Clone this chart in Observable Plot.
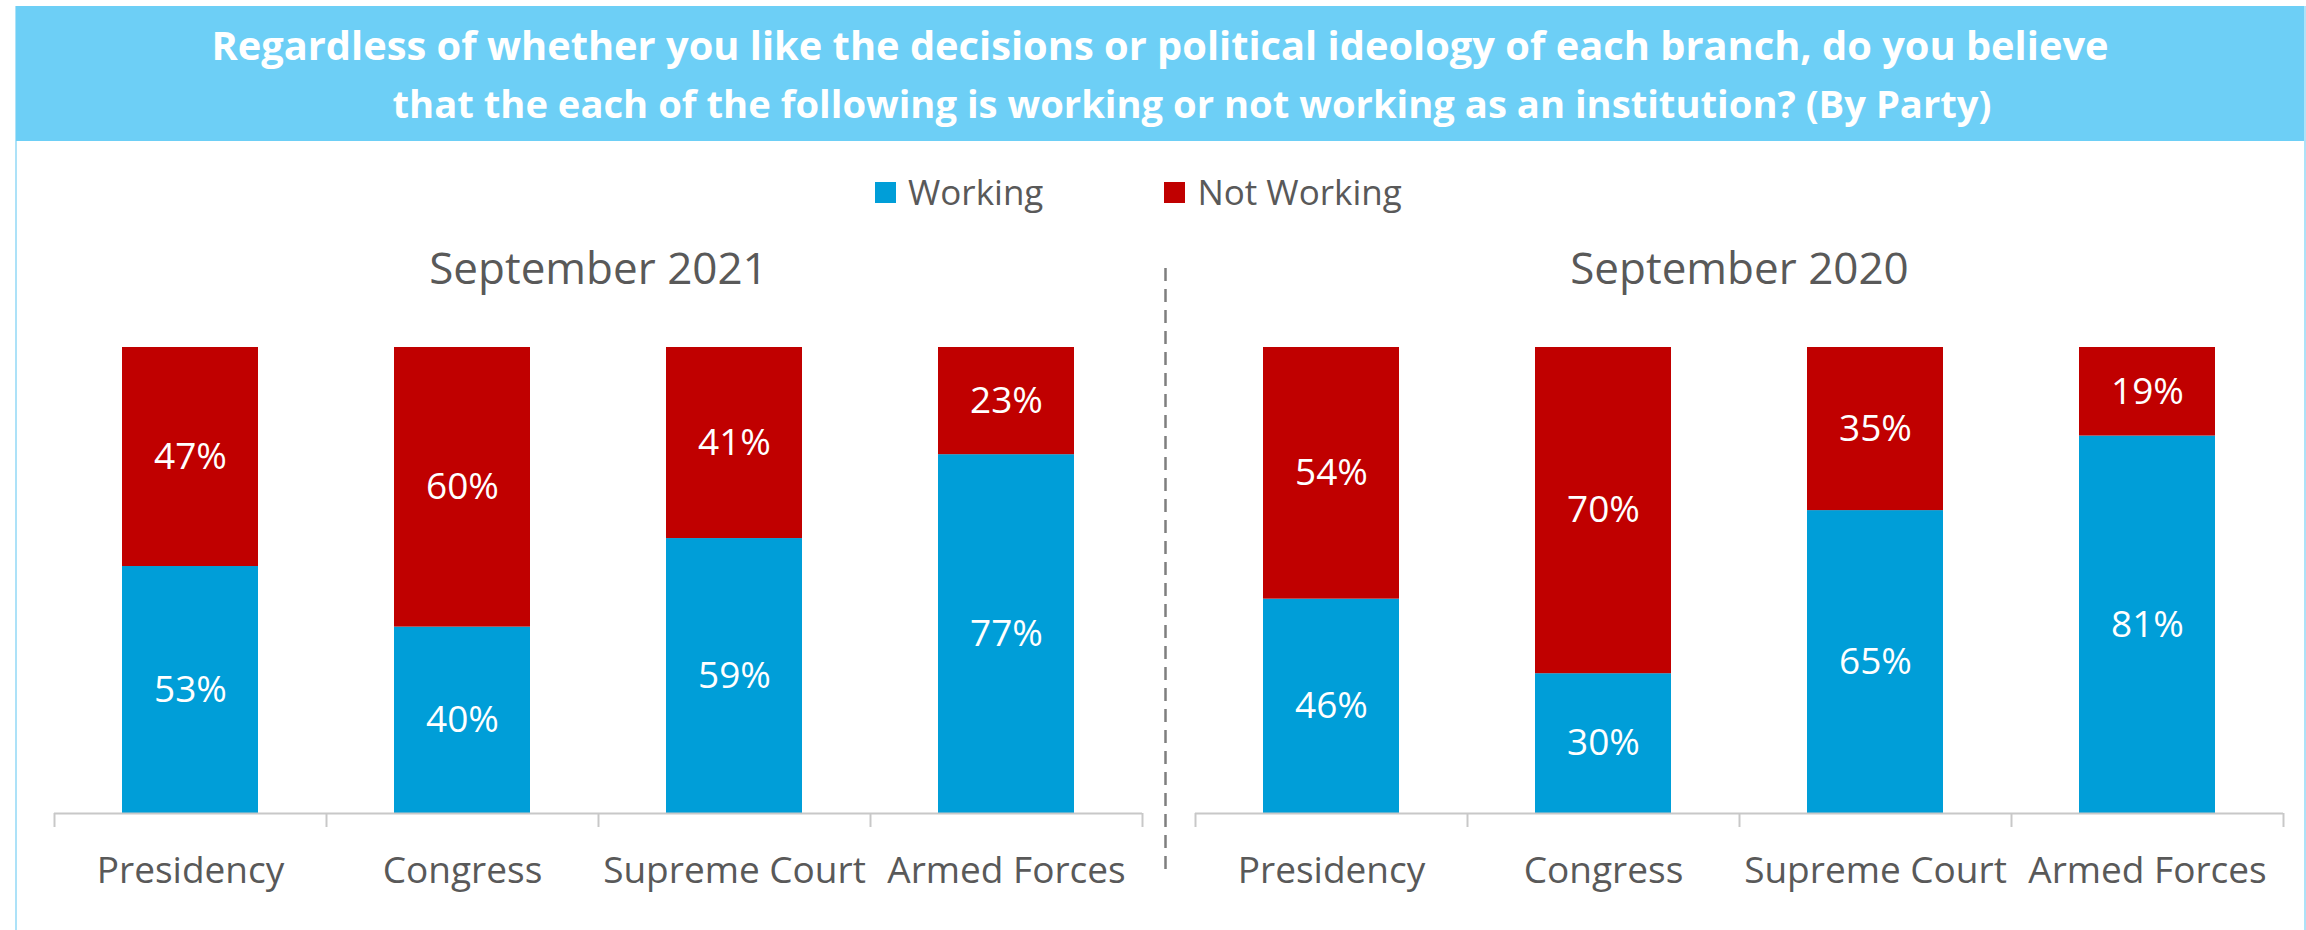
<!DOCTYPE html>
<html>
<head>
<meta charset="utf-8">
<script src="https://cdn.jsdelivr.net/npm/d3@7"></script>
<script src="https://cdn.jsdelivr.net/npm/@observablehq/plot@0.6"></script>
<style>
html, body { margin: 0; padding: 0; background: #ffffff; }
#page { position: relative; width: 2306px; height: 930px; overflow: hidden; background: #ffffff; font-family: "Open Sans", sans-serif; }
#frame { position: absolute; left: 15px; top: 6px; width: 2291px; height: 960px; box-sizing: border-box; border-left: 2.5px solid #ADE2F8; border-right: 2.5px solid #ADE2F8; }
#banner { position: absolute; left: 16px; top: 6px; width: 2288px; height: 135px; background: #6DCFF6; }
.tline { position: absolute; left: 0; width: 100%; text-align: center; color: #ffffff; font-weight: 700; line-height: 36px; white-space: nowrap; }
#legend { position: absolute; left: 875px; top: 172px; display: flex; align-items: center; height: 40px; }
.item { display: flex; align-items: center; margin-right: 121px; }
.sw { width: 21px; height: 21px; margin-right: 12px; }
.lt { font-size: 35px; color: #595959; line-height: 40px; }
#chart { position: absolute; left: 0; top: 230px; }
</style>
</head>
<body>
<div id="page">
  <div id="frame"></div>
  <div id="banner"></div>
  <div id="legend"></div>
  <div id="chart"></div>
</div>
<script>
const titleLines = [
  "Regardless of whether you like the decisions or political ideology of each branch, do you believe",
  "that the each of the following is working or not working as an institution? (By Party)"
];
const periods = ["September 2021", "September 2020"];
const categories = ["Presidency", "Congress", "Supreme Court", "Armed Forces"];
const statuses = ["Working", "Not Working"];
const working2021 = [53, 40, 59, 77];
const notWorking2021 = [47, 60, 41, 23];
const working2020 = [46, 30, 65, 81];
const notWorking2020 = [54, 70, 35, 19];
const colors = ["#009ED8", "#C00000"];

const seriesByPeriod = {
  "September 2021": [working2021, notWorking2021],
  "September 2020": [working2020, notWorking2020]
};
const rows = [];
periods.forEach(p => categories.forEach((c, i) => statuses.forEach((s, k) => {
  rows.push({period: p, category: c, status: s, value: seriesByPeriod[p][k][i]});
})));

// Title
const banner = document.getElementById("banner");
const lineTops = [21, 79];
const lineShift = [0, 32];
const lineSizes = [39.8, 38.2];
titleLines.forEach((t, i) => {
  const d = document.createElement("div");
  d.className = "tline";
  d.style.top = lineTops[i] + "px";
  d.style.left = lineShift[i] + "px";
  d.style.fontSize = lineSizes[i] + "px";
  d.textContent = t;
  banner.appendChild(d);
});

// Legend
const legend = document.getElementById("legend");
statuses.forEach((s, i) => {
  const it = document.createElement("div");
  it.className = "item";
  const sw = document.createElement("div");
  sw.className = "sw";
  sw.style.background = colors[i];
  const lt = document.createElement("div");
  lt.className = "lt";
  lt.textContent = s;
  it.appendChild(sw);
  it.appendChild(lt);
  legend.appendChild(it);
});

const chart = Plot.plot({
  width: 2306,
  height: 700,
  marginLeft: 54,
  marginRight: 23,
  marginTop: 117,
  marginBottom: 117,
  style: {fontFamily: "Open Sans", fontSize: "37px", color: "#595959", background: "transparent", overflow: "visible"},
  fx: {domain: periods, paddingInner: 0.0465, paddingOuter: 0, axis: null, label: null},
  x: {domain: categories, padding: 0, axis: null, label: null},
  y: {domain: [0, 100], axis: null},
  color: {domain: statuses, range: colors},
  marks: [
    Plot.barY(rows, Plot.stackY({fx: "period", x: "category", y: "value", fill: "status", order: statuses, insetLeft: 68, insetRight: 68})),
    Plot.text(rows, Plot.stackY({fx: "period", x: "category", y: "value", z: "status", order: statuses, text: d => d.value + "%", fill: "white", fontSize: 37})),
    Plot.ruleY([0], {stroke: "#C8C8C8", strokeWidth: 2}),
    Plot.ruleX(categories, {x: d => d, dx: -136, y1: 0, y2: 0, insetBottom: -14, stroke: "#C8C8C8", strokeWidth: 2}),
    Plot.ruleX(categories.slice(-1), {x: d => d, dx: 136, y1: 0, y2: 0, insetBottom: -14, stroke: "#C8C8C8", strokeWidth: 2}),
    Plot.axisX({tickSize: 0, tickPadding: 43, fontSize: 37, label: null}),
    Plot.text(periods, {fx: d => d, text: d => d, frameAnchor: "top", dy: -78, lineAnchor: "middle", fontSize: 44, fill: "#595959"}),
    Plot.ruleX(categories.slice(-1), {fx: () => periods[0], x: d => d, dx: 159, y1: 100, y2: 0, insetTop: -79, insetBottom: -60, stroke: "#7F7F7F", strokeWidth: 2.5, strokeDasharray: "13,8"})
  ]
});
document.getElementById("chart").appendChild(chart);
</script>
</body>
</html>
